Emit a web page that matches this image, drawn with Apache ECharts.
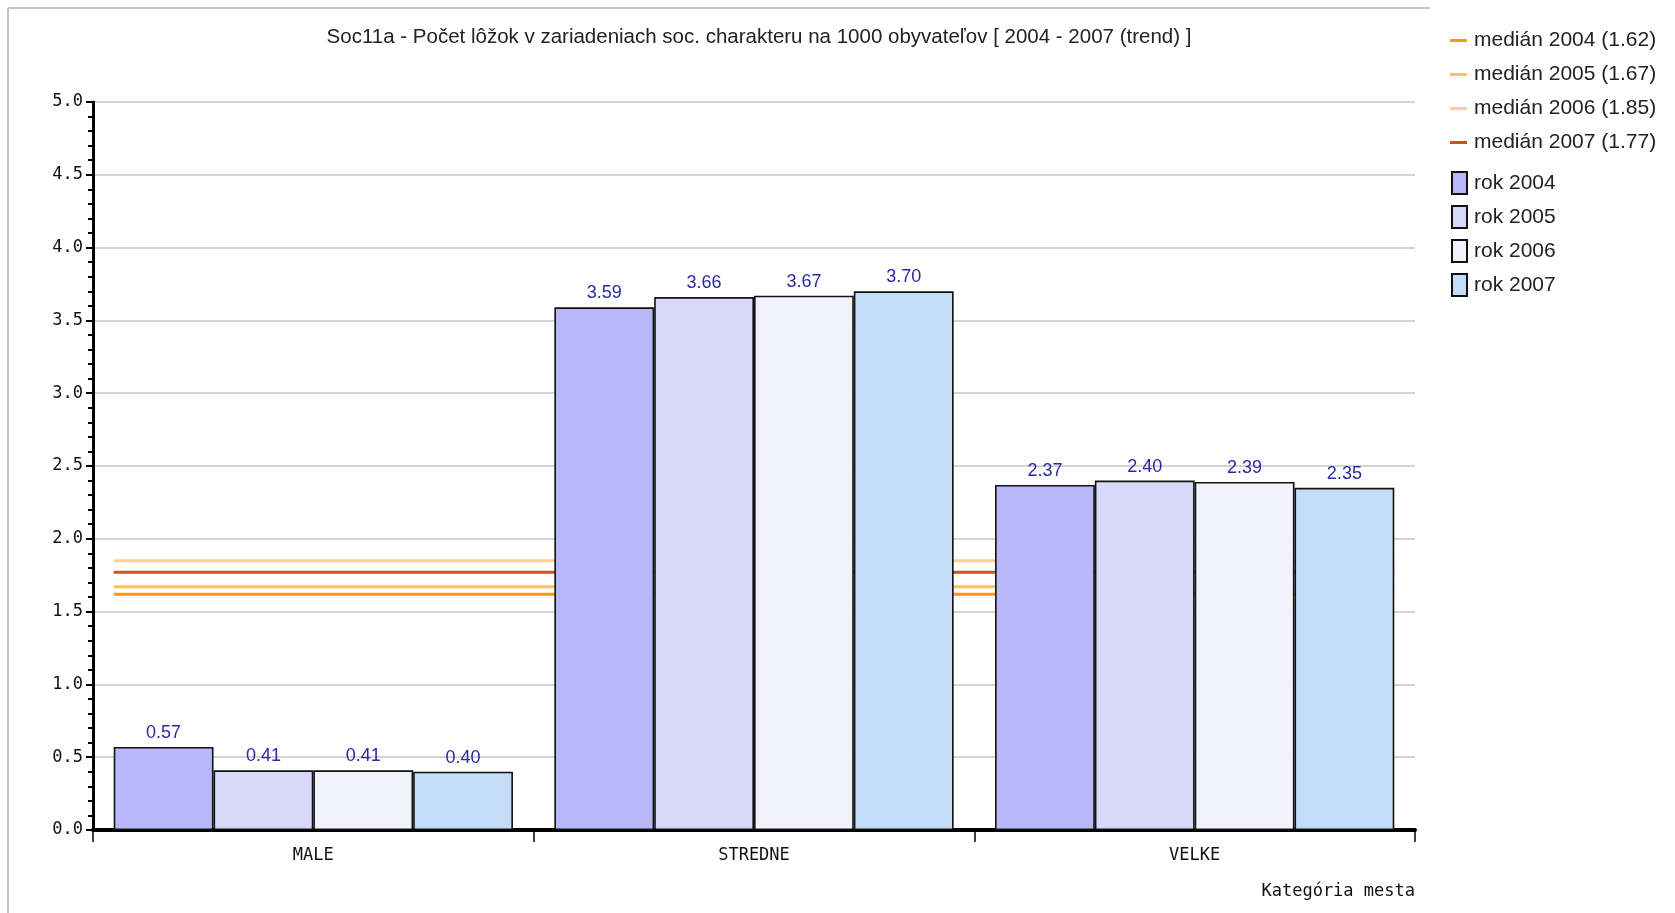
<!DOCTYPE html>
<html><head><meta charset="utf-8">
<script src="https://cdn.jsdelivr.net/npm/echarts@6/dist/echarts.min.js"></script>
<style>html,body{margin:0;padding:0;background:#fff}#c{width:1675px;height:913px}</style>
</head><body><div id="c"></div>
<script>
const categories = ['MALE', 'STREDNE', 'VELKE'];
const years = ['rok 2004', 'rok 2005', 'rok 2006', 'rok 2007'];
const values2004 = [0.57, 3.59, 2.37];
const values2005 = [0.41, 3.66, 2.40];
const values2006 = [0.41, 3.67, 2.39];
const values2007 = [0.40, 3.70, 2.35];
const medianNames = ['medián 2004 (1.62)', 'medián 2005 (1.67)', 'medián 2006 (1.85)', 'medián 2007 (1.77)'];
const medianValues = [1.62, 1.67, 1.85, 1.77];
const yTicks = [0, 0.5, 1, 1.5, 2, 2.5, 3, 3.5, 4, 4.5, 5];

const barColors = ['#b8b8f8', '#d8d8fa', '#f2f2fd', '#c4dcf8'];
const medianColors = ['#ff9a00', '#ffbf5e', '#ffcc99', '#c4561e'];
const catGapFrac = 0.094;
const edge = catGapFrac / 2;

const narrow = '"Liberation Sans Narrow", "Liberation Sans", Arial, sans-serif';
const mono = '"DejaVu Sans Mono", "Liberation Mono", monospace';

const barValues = [values2004, values2005, values2006, values2007];
const series = [];
medianValues.forEach((m, i) => {
  series.push({
    name: medianNames[i], type: 'line', xAxisIndex: 1, yAxisIndex: 0,
    data: [[edge, m], [categories.length - edge, m]],
    symbol: 'none', silent: true, z: 1,
    lineStyle: { color: medianColors[i], width: 3 },
    itemStyle: { color: medianColors[i] }
  });
});
barValues.forEach((vals, i) => {
  series.push({
    name: years[i], type: 'bar', xAxisIndex: 0, yAxisIndex: 0, data: vals, z: 3,
    barGap: '0%', barCategoryGap: (catGapFrac * 100) + '%',
    itemStyle: { color: barColors[i], borderColor: '#111', borderWidth: 1.6 },
    label: { show: true, position: 'top', distance: 5, color: '#2a2aa0',
      fontFamily: narrow, fontSize: 18, formatter: p => p.value.toFixed(2) }
  });
});

const chart = echarts.init(document.getElementById('c'), null, { renderer: 'canvas' });
chart.setOption({
  animation: false,
  backgroundColor: '#ffffff',
  title: {
    text: 'Soc11a - Počet lôžok v zariadeniach soc. charakteru na 1000 obyvateľov [ 2004 - 2007 (trend) ]',
    left: 754, top: 22, textAlign: 'center',
    textStyle: { fontFamily: narrow, fontSize: 20.5, fontWeight: 'normal', color: '#222' }
  },
  legend: [{
    data: medianNames, orient: 'vertical', left: 1445, top: 25, itemGap: 13,
    icon: 'rect', itemWidth: 17, itemHeight: 3,
    textStyle: { fontFamily: narrow, fontSize: 21, color: '#222', padding: [0, 0, 0, 2] }
  }, {
    data: years, orient: 'vertical', left: 1446, top: 166, itemGap: 10,
    icon: 'rect', itemWidth: 15, itemHeight: 22,
    textStyle: { fontFamily: narrow, fontSize: 21, color: '#222', padding: [0, 0, 0, 2] }
  }],
  grid: { left: 93, right: 260, top: 102, bottom: 83, containLabel: false },
  xAxis: [{
    type: 'category', data: categories, boundaryGap: true,
    name: 'Kategória mesta', nameLocation: 'end',
    nameGap: 0,
    nameTextStyle: { fontFamily: mono, fontSize: 17, color: '#111', align: 'right', verticalAlign: 'top', padding: [53, 0, 0, 0] },
    axisLine: { lineStyle: { color: '#000', width: 4 } },
    axisTick: { show: true, length: 12, lineStyle: { color: '#000', width: 1.5 } },
    axisLabel: { fontFamily: mono, fontSize: 17, color: '#111', margin: 17 }
  }, {
    type: 'value', min: 0, max: categories.length, show: false
  }],
  yAxis: {
    type: 'value', min: 0, max: 5, interval: 0.5,
    axisLine: { show: true, lineStyle: { color: '#000', width: 3 } },
    axisTick: { show: true, length: 7, lineStyle: { color: '#000', width: 2 } },
    minorTick: { show: true, splitNumber: 5, length: 5, lineStyle: { color: '#000', width: 2 } },
    splitLine: { show: true, lineStyle: { color: '#d4d4d4', width: 2 } },
    axisLabel: { fontFamily: mono, fontSize: 17, color: '#111', margin: 10,
      formatter: v => v.toFixed(1) }
  },
  graphic: [
    { type: 'line', shape: { x1: 8, y1: 8, x2: 8, y2: 913 }, style: { stroke: '#b0b0b0', lineWidth: 1.5 }, silent: true },
    { type: 'line', shape: { x1: 8, y1: 8, x2: 1430, y2: 8 }, style: { stroke: '#b0b0b0', lineWidth: 1.5 }, silent: true }
  ],
  series: series
});
</script></body></html>
